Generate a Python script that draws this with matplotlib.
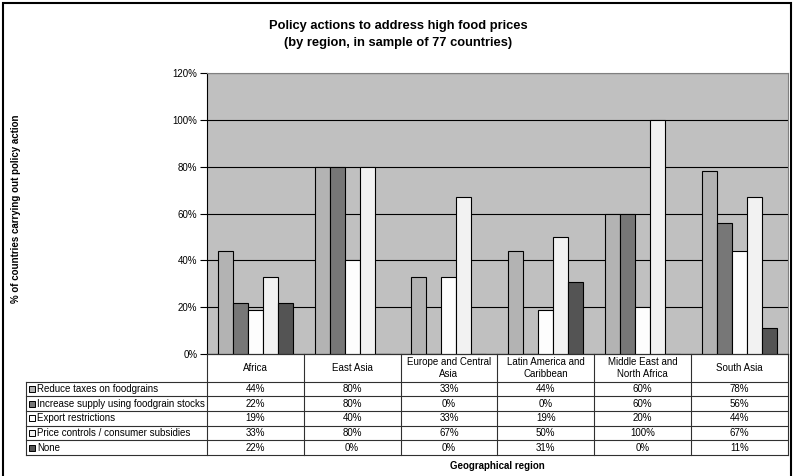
import numpy as np
import matplotlib.pyplot as plt
from matplotlib.lines import Line2D
from matplotlib.patches import Rectangle

regions = ["Africa", "East Asia", "Europe and Central\nAsia", "Latin America and\nCaribbean",
           "Middle East and\nNorth Africa", "South Asia"]
series = ["Reduce taxes on foodgrains", "Increase supply using foodgrain stocks",
          "Export restrictions", "Price controls / consumer subsidies", "None"]
reduce_taxes = [44, 80, 33, 44, 60, 78]
increase_supply = [22, 80, 0, 0, 60, 56]
export_restr = [19, 40, 33, 19, 20, 44]
price_controls = [33, 80, 67, 50, 100, 67]
none = [22, 0, 0, 31, 0, 11]
values = [reduce_taxes, increase_supply, export_restr, price_controls, none]
colors = ["#b3b3b3", "#777777", "#fdfdfd", "#f2f2f2", "#545454"]

plt.rcParams['font.family'] = ['Liberation Sans', 'DejaVu Sans']

W, H = 795, 476
fig = plt.figure(figsize=(W / 100, H / 100), dpi=100)

# plot area in pixels
x0, x1, y_top, y_bot = 207, 787.7, 72.7, 354.3
ax = fig.add_axes([x0 / W, 1 - y_bot / H, (x1 - x0) / W, (y_bot - y_top) / H])
ax.set_facecolor("#c0c0c0")

n = len(regions)
bw = 0.155
x = np.arange(n)
for i, (vals, c) in enumerate(zip(values, colors)):
    ax.bar(x + (i - 2) * bw, vals, width=bw, color=c, edgecolor="black", linewidth=0.8, zorder=3)

ax.set_xlim(-0.5, n - 0.5)
ax.set_ylim(0, 120)
ax.set_yticks(range(0, 121, 20))
ax.set_yticklabels([f"{v}%" for v in range(0, 121, 20)], fontsize=7)
ax.tick_params(axis="y", length=5, width=0.8, pad=2)
ax.set_xticks([])
ax.grid(axis="y", color="black", linewidth=0.8, zorder=1)
for s in ["top", "right"]:
    ax.spines[s].set_color("#808080")
for s in ["left", "bottom"]:
    ax.spines[s].set_color("black")
    ax.spines[s].set_linewidth(0.8)


def fx(px):
    return px / W


def fy(py):
    return 1 - py / H


def hline(xa, xb, y, lw=0.8, color="#303030"):
    fig.add_artist(Line2D([fx(xa), fx(xb)], [fy(y), fy(y)], color=color, lw=lw, transform=fig.transFigure))


def vline(x_, ya, yb, lw=0.8, color="#303030"):
    fig.add_artist(Line2D([fx(x_), fx(x_)], [fy(ya), fy(yb)], color=color, lw=lw, transform=fig.transFigure))


# data table
tab_left = 26
header_bot = 381.7
row_h = 14.65
col_w = (x1 - x0) / n
rows_y = [header_bot + k * row_h for k in range(len(series) + 1)]

for k, y in enumerate(rows_y):
    hline(tab_left, x1, y)
hline(x0, x1, y_bot)
vline(tab_left, header_bot, rows_y[-1])
for j in range(n + 1):
    vline(x0 + j * col_w, y_bot, rows_y[-1])

for j, name in enumerate(regions):
    fig.text(fx(x0 + (j + 0.5) * col_w), fy((y_bot + header_bot) / 2), name,
             ha="center", va="center", fontsize=7, linespacing=1.15)

for k, (name, vals, c) in enumerate(zip(series, values, colors)):
    yc = rows_y[k] + row_h / 2
    fig.add_artist(Rectangle((fx(28.5), fy(yc + 3)), 6 / W, 6 / H, facecolor=c,
                             edgecolor="black", lw=0.7, transform=fig.transFigure))
    fig.text(fx(37), fy(yc), name, ha="left", va="center", fontsize=7)
    for j, v in enumerate(vals):
        fig.text(fx(x0 + (j + 0.5) * col_w), fy(yc), f"{v}%", ha="center", va="center", fontsize=7)

fig.text(fx((x0 + x1) / 2), fy(466), "Geographical region", ha="center", va="center",
         fontsize=7, fontweight="bold")
fig.text(fx(16), fy(209), "% of countries carrying out policy action", ha="center", va="center",
         rotation=90, fontsize=7, fontweight="bold")
fig.text(0.5 * (fx(268) + fx(528)), fy(26), "Policy actions to address high food prices",
         ha="center", va="center", fontsize=9.3, fontweight="bold")
fig.text(0.5 * (fx(268) + fx(528)), fy(43), "(by region, in sample of 77 countries)",
         ha="center", va="center", fontsize=9.3, fontweight="bold")

# outer chart frame
fig.add_artist(Rectangle((fx(2.5), fy(490)), (791 - 2.5) / W, (490 - 3) / H, fill=False,
                         edgecolor="black", lw=1.5, transform=fig.transFigure))

fig.savefig("out.png", dpi=100)
